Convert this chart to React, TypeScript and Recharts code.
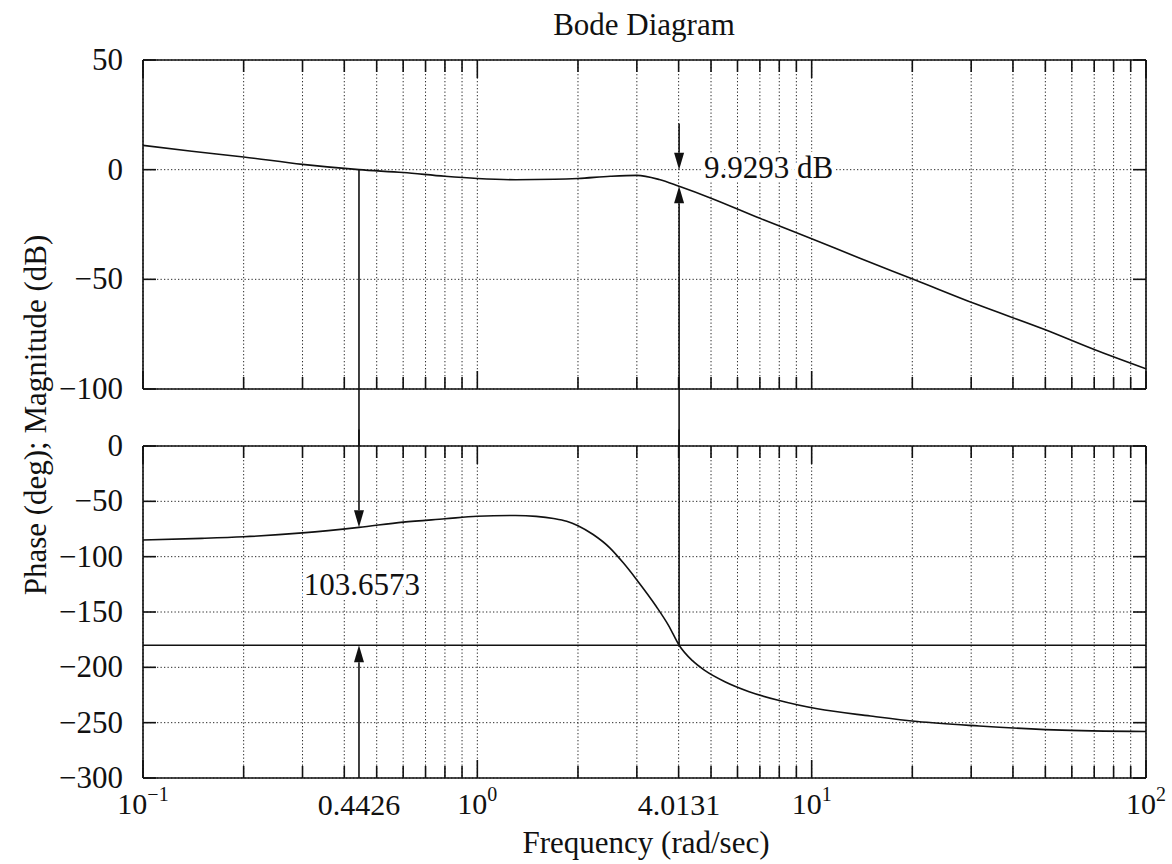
import React from 'react';
import { LineChart, Line, XAxis, YAxis, CartesianGrid, ReferenceLine, ReferenceDot } from 'recharts';

// ---------- data ----------
const magFreq = [0.1, 0.14, 0.2, 0.3, 0.4426, 0.6, 0.8, 1.0, 1.3, 1.7, 2.0, 2.5, 3.0, 3.5, 4.0131, 5.0, 7.0, 10, 14, 20.4, 31, 50, 70, 100];
const magDb = [11.1, 8.4, 5.8, 2.4, 0, -1.3, -3.0, -4.0, -4.6, -4.4, -4.0, -3.0, -2.6, -4.5, -7.6, -13.0, -22.2, -31.5, -40.5, -50.3, -61.3, -73.0, -82.0, -90.8];

const phaseFreq = [0.1, 0.15, 0.2, 0.3, 0.4426, 0.6, 0.8, 1.0, 1.3, 1.5, 1.69, 1.85, 2.0, 2.22, 2.49, 2.74, 3.0, 3.43, 3.73, 4.0131, 4.4, 4.8, 5.5, 6.5, 8, 10.4, 15, 20.7, 31.7, 53, 100];
const phaseDeg = [-85, -83.5, -82, -78.5, -73.5, -68.8, -65.8, -63.5, -62.8, -63.6, -65.5, -68, -72, -80, -92, -106, -121, -145, -162, -180, -194, -203, -213, -222, -230, -237.5, -244, -249, -253, -256.5, -258];

const gridFreqs = [0.1, 0.2, 0.3, 0.4, 0.5, 0.6, 0.7, 0.8, 0.9, 1, 2, 3, 4, 5, 6, 7, 8, 9, 10, 20, 30, 40, 50, 60, 70, 80, 90, 100];
const decadeFreqs = [0.1, 1, 10, 100];
const magTicks = [-100, -50, 0, 50];
const phaseTicks = [-300, -250, -200, -150, -100, -50, 0];

const gainCrossFreq = 0.4426;
const phaseCrossFreq = 4.0131;
const gainCrossFreqLabel = '0.4426';
const phaseCrossFreqLabel = '4.0131';
const gainMarginLabel = '9.9293 dB';
const phaseMarginLabel = '103.6573';
const magAtPhaseCross = -7.6;
const phaseAtGainCross = -73.5;
const phaseLine = -180;

const decadeLabels: Record<string, [string, string]> = {
  '0.1': ['10', '\u22121'],
  '1': ['10', '0'],
  '10': ['10', '1'],
  '100': ['10', '2'],
};
const specialLabels: Record<string, string> = {
  [String(gainCrossFreq)]: gainCrossFreqLabel,
  [String(phaseCrossFreq)]: phaseCrossFreqLabel,
};

const bottomTicks = [...gridFreqs, gainCrossFreq, phaseCrossFreq].sort((a, b) => a - b);

const magData = magFreq.map((f, i) => ({ f, mag: magDb[i] }));
const phaseData = phaseFreq.map((f, i) => ({ f, phase: phaseDeg[i] }));

// ---------- styles ----------
const FONT = '"Liberation Serif", "Times New Roman", Times, serif';
const INK = '#111';
const W = 1172;

const isIn = (arr: number[], v: number) => arr.some((a) => Math.abs(a - v) < 1e-9);
const fmtNum = (v: number) => (v < 0 ? '\u2212' + Math.abs(v) : String(v));

const makeXTick = (dir: 1 | -1, showLabels: boolean) => (props: any) => {
  const { x, y, payload } = props;
  const v = payload.value as number;
  const grid = isIn(gridFreqs, v);
  const major = isIn(decadeFreqs, v);
  const len = major ? 18 : 12;
  let label: React.ReactNode = null;
  if (showLabels) {
    const dec = decadeLabels[String(v)];
    const sp = specialLabels[String(v)];
    if (dec) {
      label = (
        <text x={x} y={y + 36} textAnchor="middle" fontFamily={FONT} fontSize={30} fill={INK}>
          {dec[0]}
          <tspan dy={-13} fontSize={20}>{dec[1]}</tspan>
        </text>
      );
    } else if (sp) {
      label = (
        <text x={x} y={y + 37} textAnchor="middle" fontFamily={FONT} fontSize={30} fill={INK}>
          {sp}
        </text>
      );
    }
  }
  return (
    <g>
      {grid && <line x1={x} y1={y} x2={x} y2={y + dir * len} stroke={INK} strokeWidth={1.6} />}
      {label}
    </g>
  );
};

const makeYTick = (dir: 1 | -1, showLabels: boolean) => (props: any) => {
  const { x, y, payload } = props;
  return (
    <g>
      <line x1={x} y1={y} x2={x + dir * 13} y2={y} stroke={INK} strokeWidth={1.6} />
      {showLabels && (
        <text x={x - 20} y={y + 10} textAnchor="end" fontFamily={FONT} fontSize={31} fill={INK}>
          {fmtNum(payload.value)}
        </text>
      )}
    </g>
  );
};

const ArrowShape = (props: any) => {
  const { x1, y1, x2, y2 } = props;
  const dx = x2 - x1;
  const dy = y2 - y1;
  const L = Math.hypot(dx, dy) || 1;
  const ux = dx / L;
  const uy = dy / L;
  const hl = 17;
  const hw = 5;
  const bx = x2 - ux * hl;
  const by = y2 - uy * hl;
  const pts = `${x2},${y2} ${bx - uy * hw},${by + ux * hw} ${bx + uy * hw},${by - ux * hw}`;
  return (
    <g>
      <line x1={x1} y1={y1} x2={bx} y2={by} stroke={INK} strokeWidth={1.6} />
      <polygon points={pts} fill={INK} />
    </g>
  );
};

const PlainShape = (props: any) => {
  const { x1, y1, x2, y2 } = props;
  return <line x1={x1} y1={y1} x2={x2} y2={y2} stroke={INK} strokeWidth={1.6} />;
};

const textWithHalo = (txt: string, dx: number, dy: number, anchor: 'start' | 'middle') => (props: any) => {
  const { cx, cy } = props;
  return (
    <text
      x={cx + dx}
      y={cy + dy}
      textAnchor={anchor}
      fontFamily={FONT}
      fontSize={31}
      fill={INK}
      stroke="#ffffff"
      strokeWidth={8}
      paintOrder="stroke"
      strokeLinejoin="round"
    >
      {txt}
    </text>
  );
};

const axisLine = { stroke: INK, strokeWidth: 1.6 };
const gridStyle = { stroke: '#2a2a2a', strokeDasharray: '1.3 2.2', strokeWidth: 1 };

function xAxes(showLabels: boolean) {
  return [
    <XAxis
      key="b"
      xAxisId="b"
      dataKey="f"
      type="number"
      scale="log"
      domain={[0.1, 100]}
      allowDataOverflow
      ticks={showLabels ? bottomTicks : gridFreqs}
      interval={0}
      height={1}
      tickSize={0}
      tickMargin={0}
      tickLine={false}
      axisLine={axisLine}
      tick={makeXTick(-1, showLabels)}
    />,
    <XAxis
      key="t"
      xAxisId="t"
      dataKey="f"
      orientation="top"
      type="number"
      scale="log"
      domain={[0.1, 100]}
      allowDataOverflow
      ticks={gridFreqs}
      interval={0}
      height={1}
      tickSize={0}
      tickMargin={0}
      tickLine={false}
      axisLine={axisLine}
      tick={makeXTick(1, false)}
    />,
  ];
}

function yAxes(domain: [number, number], ticks: number[]) {
  return [
    <YAxis
      key="l"
      yAxisId="l"
      type="number"
      domain={domain}
      allowDataOverflow
      ticks={ticks}
      interval={0}
      width={143}
      tickSize={0}
      tickMargin={0}
      tickLine={false}
      axisLine={axisLine}
      tick={makeYTick(1, true)}
    />,
    <YAxis
      key="r"
      yAxisId="r"
      orientation="right"
      type="number"
      domain={domain}
      allowDataOverflow
      ticks={ticks}
      interval={0}
      width={1}
      tickSize={0}
      tickMargin={0}
      tickLine={false}
      axisLine={axisLine}
      tick={makeYTick(-1, false)}
    />,
  ];
}

// invisible series that ties the top and right axes to the data so they get ticks
const linkLine = (key: string) => (
  <Line
    xAxisId="t"
    yAxisId="r"
    dataKey={key}
    stroke="none"
    strokeWidth={0}
    dot={false}
    activeDot={false}
    legendType="none"
    isAnimationActive={false}
  />
);

export default function App() {
  return (
    <div style={{ position: 'absolute', left: 0, top: 0, width: W, height: 864, background: '#ffffff', overflow: 'hidden' }}>
      {/* Magnitude */}
      <div style={{ position: 'absolute', left: 0, top: 0 }}>
        <LineChart width={W} height={446} data={magData} margin={{ top: 59, right: 25, bottom: 56, left: 0 }}>
          <CartesianGrid xAxisId="t" yAxisId="l" {...gridStyle} />
          {xAxes(false)}
          {yAxes([-100, 50], magTicks)}
          {linkLine('mag')}
          <Line xAxisId="b" yAxisId="l" type="monotone" dataKey="mag" stroke={INK} strokeWidth={1.6} dot={false} isAnimationActive={false} />
          <ReferenceLine
            xAxisId="b"
            yAxisId="l"
            ifOverflow="visible"
            segment={[{ x: phaseCrossFreq, y: 21 }, { x: phaseCrossFreq, y: 0 }]}
            shape={ArrowShape}
          />
          <ReferenceLine
            xAxisId="b"
            yAxisId="l"
            ifOverflow="visible"
            segment={[{ x: phaseCrossFreq, y: -130 }, { x: phaseCrossFreq, y: magAtPhaseCross }]}
            shape={ArrowShape}
          />
          <ReferenceLine
            xAxisId="b"
            yAxisId="l"
            ifOverflow="visible"
            segment={[{ x: gainCrossFreq, y: 0 }, { x: gainCrossFreq, y: -130 }]}
            shape={PlainShape}
          />
          <ReferenceDot
            xAxisId="b"
            yAxisId="l"
            x={phaseCrossFreq}
            y={0}
            r={0}
            ifOverflow="visible"
            shape={textWithHalo(gainMarginLabel, 25, 8, 'start')}
          />
        </LineChart>
      </div>

      {/* Phase */}
      <div style={{ position: 'absolute', left: 0, top: 426 }}>
        <LineChart width={W} height={438} data={phaseData} margin={{ top: 19, right: 25, bottom: 85, left: 0 }}>
          <CartesianGrid xAxisId="t" yAxisId="l" {...gridStyle} />
          {xAxes(true)}
          {yAxes([-300, 0], phaseTicks)}
          {linkLine('phase')}
          <ReferenceLine xAxisId="b" yAxisId="l" y={phaseLine} stroke={INK} strokeWidth={1.6} />
          <Line xAxisId="b" yAxisId="l" type="monotone" dataKey="phase" stroke={INK} strokeWidth={1.6} dot={false} isAnimationActive={false} />
          <ReferenceLine
            xAxisId="b"
            yAxisId="l"
            ifOverflow="visible"
            segment={[{ x: phaseCrossFreq, y: 15 }, { x: phaseCrossFreq, y: phaseLine }]}
            shape={PlainShape}
          />
          <ReferenceLine
            xAxisId="b"
            yAxisId="l"
            ifOverflow="visible"
            segment={[{ x: gainCrossFreq, y: 15 }, { x: gainCrossFreq, y: phaseAtGainCross }]}
            shape={ArrowShape}
          />
          <ReferenceLine
            xAxisId="b"
            yAxisId="l"
            ifOverflow="visible"
            segment={[{ x: gainCrossFreq, y: -300 }, { x: gainCrossFreq, y: phaseLine }]}
            shape={ArrowShape}
          />
          <ReferenceDot
            xAxisId="b"
            yAxisId="l"
            x={gainCrossFreq}
            y={phaseLine}
            r={0}
            ifOverflow="visible"
            shape={textWithHalo(phaseMarginLabel, 3, -50, 'middle')}
          />
        </LineChart>
      </div>

      {/* titles */}
      <svg width={W} height={864} style={{ position: 'absolute', left: 0, top: 0, pointerEvents: 'none' }}>
        <text x={644} y={35} textAnchor="middle" fontFamily={FONT} fontSize={31} fill={INK}>
          Bode Diagram
        </text>
        <text transform="translate(46,415) rotate(-90)" textAnchor="middle" fontFamily={FONT} fontSize={31} fill={INK}>
          Phase (deg); Magnitude (dB)
        </text>
        <text x={646} y={853} textAnchor="middle" fontFamily={FONT} fontSize={31} fill={INK}>
          Frequency (rad/sec)
        </text>
      </svg>
    </div>
  );
}
